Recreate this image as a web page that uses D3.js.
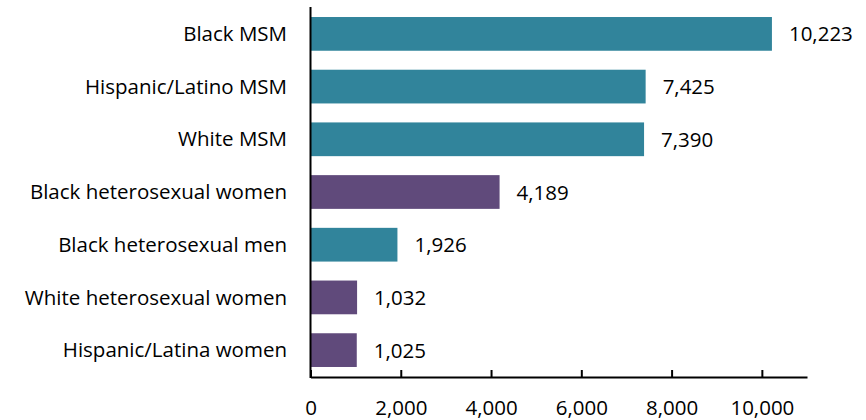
<!DOCTYPE html>
<html>
<head>
<meta charset="utf-8">
<script src="https://cdn.jsdelivr.net/npm/d3@7"></script>
<style>
  body { margin: 0; background: #fff; }
  svg text { font-family: "Open Sans", sans-serif; font-size: 20.5px; fill: #000; }
</style>
</head>
<body>
<div class="chart"></div>
<script>
// data
const groups = ["Black MSM", "Hispanic/Latino MSM", "White MSM", "Black heterosexual women",
    "Black heterosexual men", "White heterosexual women", "Hispanic/Latina women"]
const diagnoses = [10223, 7425, 7390, 4189, 1926, 1032, 1025]
const sex = ["male", "male", "male", "female", "male", "female", "female"]
const xTicks = [0, 2000, 4000, 6000, 8000, 10000]

const width = 866
const height = 420

const colors = { male: "#31849B", female: "#604A7B" }

const svg = d3.select(".chart")
    .append("svg")
    .attr("width", width)
    .attr("height", height)

const x = d3.scaleLinear()
    .domain([0, 11000])
    .range([310.5, 807])

const y = d3.scaleBand()
    .domain(groups)
    .range([7, 377])
    .paddingInner(0.36)
    .paddingOuter(0.19)

const rows = groups.map((g, i) => ({ group: g, value: diagnoses[i], sex: sex[i] }))

svg.selectAll(".bar")
    .data(rows)
    .enter().append("rect")
    .attr("class", "bar")
    .attr("x", x(0))
    .attr("y", d => y(d.group))
    .attr("width", d => x(d.value) - x(0))
    .attr("height", y.bandwidth())
    .style("fill", d => colors[d.sex])

svg.selectAll(".value")
    .data(rows)
    .enter().append("text")
    .attr("class", "value")
    .attr("x", d => x(d.value) + 17)
    .attr("y", d => y(d.group) + y.bandwidth() / 2)
    .attr("dy", "0.37em")
    .text(d => d3.format(",")(d.value))

svg.selectAll(".cat")
    .data(rows)
    .enter().append("text")
    .attr("class", "cat")
    .attr("x", 287)
    .attr("y", d => y(d.group) + y.bandwidth() / 2)
    .attr("dy", "0.35em")
    .attr("text-anchor", "end")
    .text(d => d.group)

// bottom axis, ticks pointing up into the plot
const xAxis = svg.append("g")
    .attr("transform", "translate(0,377)")
    .call(d3.axisBottom(x)
        .tickValues(xTicks)
        .tickSizeInner(-7)
        .tickSizeOuter(0)
        .tickFormat(d3.format(",")))

xAxis.select(".domain").attr("stroke", "#000").attr("stroke-width", 2)
xAxis.selectAll(".tick line").attr("stroke", "#000").attr("stroke-width", 2)
xAxis.selectAll(".tick text")
    .attr("y", 31)
    .attr("dy", "0.36em")
    .style("font-family", "'Open Sans', sans-serif")
    .style("font-size", "20.5px")
    .attr("fill", "#000")

// left axis line
svg.append("line")
    .attr("x1", x(0))
    .attr("x2", x(0))
    .attr("y1", 7)
    .attr("y2", 378)
    .attr("stroke", "#000")
    .attr("stroke-width", 2)
</script>
</body>
</html>
